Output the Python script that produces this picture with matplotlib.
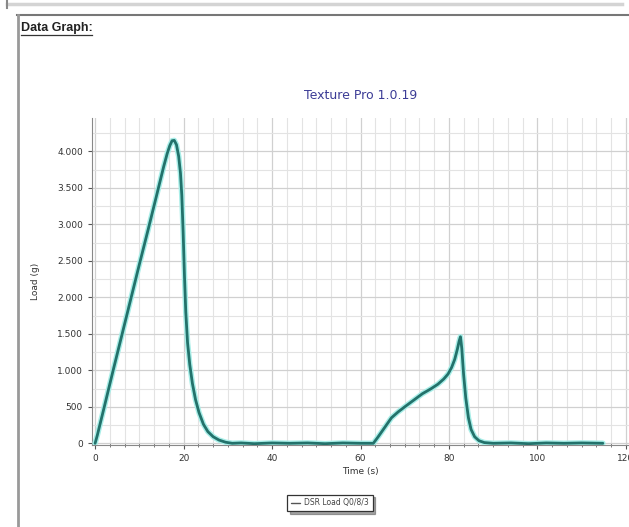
import matplotlib.pyplot as plt
from matplotlib.lines import Line2D
from matplotlib.ticker import MultipleLocator, FuncFormatter

# load curve, time in s, load in g
time_s = [0.0, 0.5, 2.0, 4.0, 6.0, 8.0, 10.0, 12.0, 14.0, 15.5, 16.3, 16.9, 17.4, 17.9,
          18.4, 18.9, 19.3, 19.6, 19.9, 20.2, 20.5, 20.9, 21.4, 22.0, 22.7, 23.5,
          24.5, 25.5, 26.7, 28.0, 29.5, 31.0, 33.0, 36.0, 40.0, 44.0, 48.0, 52.0,
          56.0, 60.0, 62.0, 62.9, 64.0, 65.5, 67.0, 68.5, 70.0, 72.0, 74.0, 76.0,
          77.5, 78.8, 79.8, 80.6, 81.3, 81.9, 82.3, 82.6, 82.9, 83.3, 83.8, 84.4,
          85.0, 85.8, 86.8, 88.0, 90.0, 94.0, 98.0, 102.0, 106.0, 110.0, 114.8]
load_g = [0, 110, 480, 980, 1470, 1960, 2450, 2930, 3420, 3790, 3970, 4080, 4145, 4150,
          4090, 3930, 3700, 3400, 2900, 2300, 1800, 1380, 1080, 820, 600, 420,
          260, 160, 90, 45, 15, 0, 5, -5, 5, 0, 5, -5, 5, 0, 0, 0,
          90, 220, 350, 430, 500, 590, 680, 750, 810, 880, 950, 1040, 1150, 1290, 1400,
          1460, 1300, 950, 620, 350, 190, 90, 35, 10, 0, 5, -5, 5, 0, 5, 0]

x_ticks = [0, 20, 40, 60, 80, 100, 120]
y_ticks = [0, 500, 1000, 1500, 2000, 2500, 3000, 3500, 4000]
series_name = "DSR Load Q0/8/3"

fig = plt.figure(figsize=(6.29, 5.27), dpi=100)
W, H = 629, 527


def fx(px):
    return px / W


def fy(py):
    return 1 - py / H


# page frame around the chart
fig.add_artist(Line2D([fx(7), fx(622)], [fy(4), fy(4)], color="#d4d4d4", lw=2.5))
fig.add_artist(Line2D([fx(7), fx(7)], [fy(0), fy(8)], color="#888888", lw=1.5))
fig.add_artist(Line2D([fx(17), fx(629)], [fy(15), fy(15)], color="#777777", lw=1.5))
fig.add_artist(Line2D([fx(18), fx(18)], [fy(15), fy(527)], color="#999999", lw=2.0))
fig.text(fx(21), fy(28), "Data Graph:", fontsize=9, fontweight="bold", color="#222222",
         va="center", ha="left", family="Liberation Sans")
fig.add_artist(Line2D([fx(21), fx(92)], [fy(35), fy(35)], color="#333333", lw=0.9))

ax = fig.add_axes([fx(92), fy(445), fx(629 - 92), (445 - 118) / H])
ax.plot(time_s, load_g, color="#a8eee8", lw=4.0, solid_capstyle="round", zorder=3)
ax.plot(time_s, load_g, color="#23726b", lw=2.0, solid_capstyle="round", zorder=4,
        label=series_name)

ax.set_xlim(-0.7, 120.7)
ax.set_ylim(-23, 4457)
ax.set_xticks(x_ticks)
ax.set_yticks(y_ticks)
ax.xaxis.set_minor_locator(MultipleLocator(20 / 6))
ax.yaxis.set_minor_locator(MultipleLocator(250))
ax.yaxis.set_major_formatter(FuncFormatter(lambda v, p: f"{int(v):,}".replace(",", ".")))

ax.grid(True, which="major", color="#d0d0d0", lw=0.9)
ax.grid(True, which="minor", color="#e3e3e3", lw=0.8)
ax.set_axisbelow(True)

for s in ["top", "right"]:
    ax.spines[s].set_visible(False)
ax.spines["left"].set_color("#888888")
ax.spines["bottom"].set_color("#888888")
ax.tick_params(which="major", labelsize=6.5, colors="#555555", labelcolor="#333333",
               length=3, width=0.8)
ax.tick_params(which="minor", direction="inout", length=3, width=0.7, colors="#777777")
ax.tick_params(axis="y", which="minor", length=0)

ax.set_xlabel("Time (s)", fontsize=6.5, color="#333333", labelpad=3)
ax.set_ylabel("Load (g)", fontsize=6.5, color="#333333", labelpad=12)
ax.set_title("Texture Pro 1.0.19", fontsize=9, color="#3c3c96", pad=14)

leg = ax.legend(loc="center", bbox_to_anchor=(fx(330), fy(503)),
                bbox_transform=fig.transFigure, fontsize=5.5, frameon=True,
                fancybox=False, shadow=True, handlelength=1.2, borderpad=0.5,
                handletextpad=0.5)
leg.get_frame().set_edgecolor("#333333")
leg.get_frame().set_linewidth(0.9)
for t in leg.get_texts():
    t.set_color("#444444")
for h in leg.get_lines():
    h.set_color("#555555")
    h.set_linewidth(1.0)

fig.savefig("out.png", dpi=100)
